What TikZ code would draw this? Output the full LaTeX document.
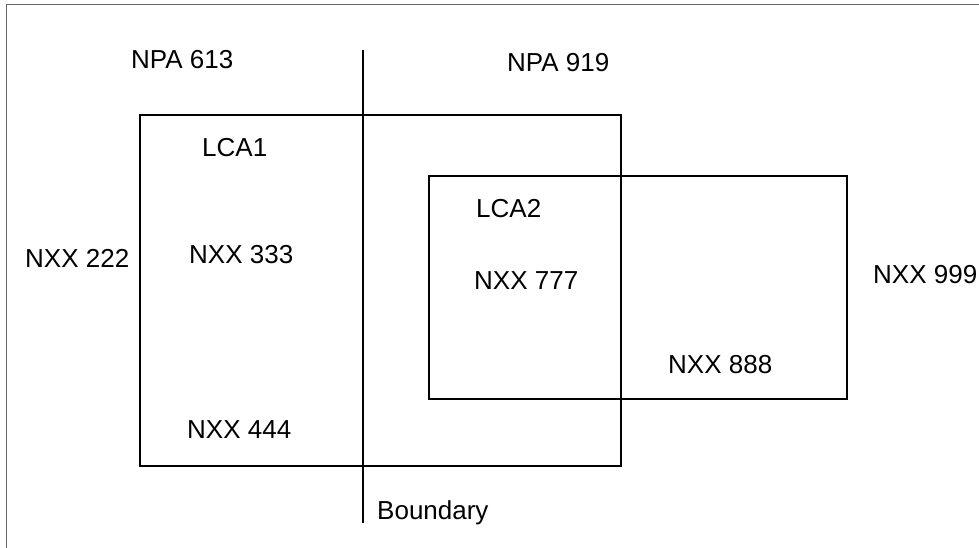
\documentclass[tikz,border=0pt]{standalone}
\usepackage{fontspec}
\setmainfont{Liberation Sans}
\begin{document}
\begin{tikzpicture}[x=1pt,y=-1pt,
  lbl/.style={anchor=base west,inner sep=0pt,font=\fontsize{26}{30}\selectfont},
  boxline/.style={draw=black,line width=1.5pt},
  frameline/.style={draw=black!60,line width=1.2pt}]
\useasboundingbox (0,0) rectangle (979,548);
% partial outer frame
\draw[frameline] (979,4.5) -- (6.5,4.5) -- (6.5,548);
% LCA boxes
\draw[boxline] (140,115) rectangle (621,466);
\draw[boxline] (429,176) rectangle (847,399);
% boundary
\coordinate (btop) at (363,50);
\coordinate (bbot) at (363,523);
\draw[boxline] (btop) -- (bbot);
% labels
\node[lbl] (npa613) at (131,69) {NPA 613};
\node[lbl] (npa919) at (507,72) {NPA 919};
\node[lbl] (lca1) at (202,157) {LCA1};
\node[lbl] (lca2) at (476,217) {LCA2};
\node[lbl] (nxx222) at (25,267) {NXX 222};
\node[lbl] (nxx333) at (189,263) {NXX 333};
\node[lbl] (nxx777) at (474,289) {NXX 777};
\node[lbl] (nxx999) at (873,283) {NXX 999};
\node[lbl] (nxx888) at (668,373) {NXX 888};
\node[lbl] (nxx444) at (187,438) {NXX 444};
\node[lbl] (bnd) at (377,519) {Boundary};
\end{tikzpicture}
\end{document}
